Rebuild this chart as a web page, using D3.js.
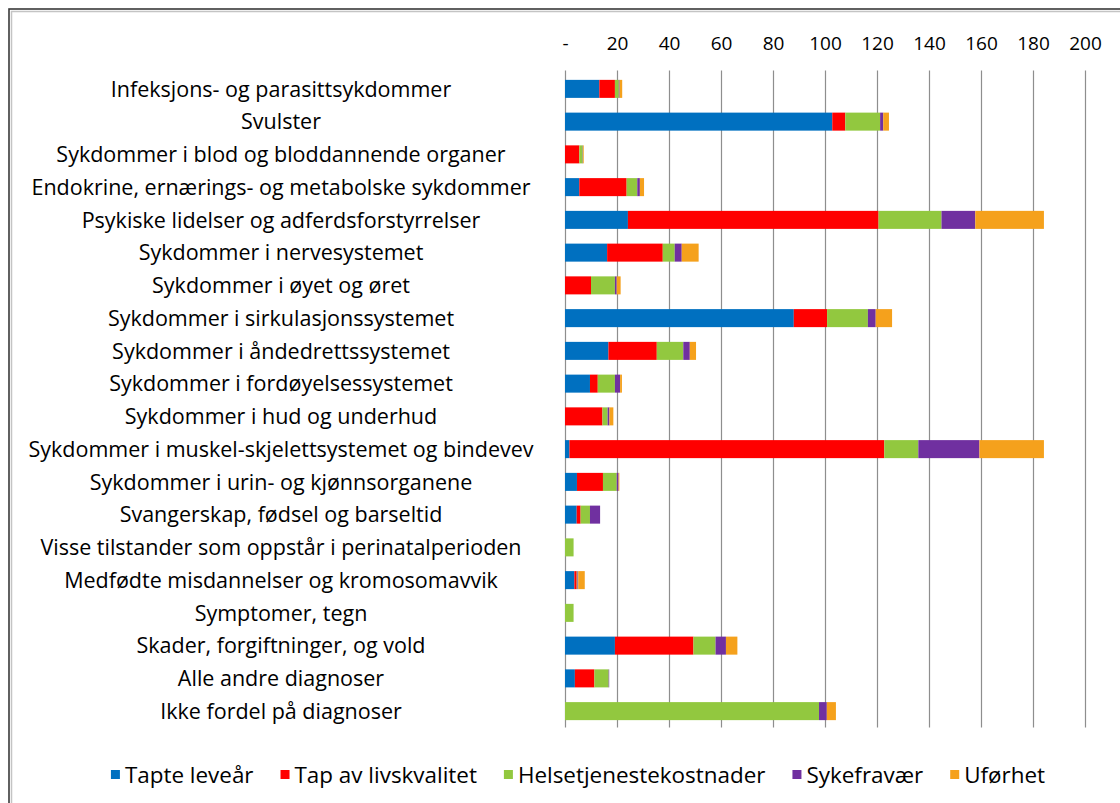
<!DOCTYPE html>
<html>
<head>
<meta charset="utf-8">
<script src="https://cdn.jsdelivr.net/npm/d3@7"></script>
<style>
    html, body { margin: 0; padding: 0; background: #fff; }
    svg { display: block; font-family: 'Open Sans', 'Lato', sans-serif; }
</style>
</head>
<body>
<div id="chart"></div>
<script>
(function () {
    'use strict';

    var categories = [
        'Infeksjons- og parasittsykdommer',
        'Svulster',
        'Sykdommer i blod og bloddannende organer',
        'Endokrine, ernærings- og metabolske sykdommer',
        'Psykiske lidelser og adferdsforstyrrelser',
        'Sykdommer i nervesystemet',
        'Sykdommer i øyet og øret',
        'Sykdommer i sirkulasjonssystemet',
        'Sykdommer i åndedrettssystemet',
        'Sykdommer i fordøyelsessystemet',
        'Sykdommer i hud og underhud',
        'Sykdommer i muskel-skjelettsystemet og bindevev',
        'Sykdommer i urin- og kjønnsorganene',
        'Svangerskap, fødsel og barseltid',
        'Visse tilstander som oppstår i perinatalperioden',
        'Medfødte misdannelser og kromosomavvik',
        'Symptomer, tegn',
        'Skader, forgiftninger, og vold',
        'Alle andre diagnoser',
        'Ikke fordel på diagnoser'
    ];

    var seriesNames = ['Tapte leveår', 'Tap av livskvalitet', 'Helsetjenestekostnader', 'Sykefravær', 'Uførhet'];
    var seriesColors = ['#0070C0', '#FF0000', '#92C83F', '#7030A0', '#F5A11C'];

    var tapteLeveaar      = [13.2, 102.8, 0,    5.5,  24.2, 16.2, 0,    88,   16.7, 9.6, 0,    1.7,   4.6, 4.5, 0,   3.6, 0,   19.2, 3.8, 0];
    var tapLivskvalitet   = [6,    5,     5.5,  18.2, 96.4, 21.4, 10,   12.8, 18.6, 3,   14.4, 121.1, 10,  1.5, 0,   0.9, 0,   30.2, 7.5, 0];
    var helsetjeneste     = [1.5,  13.4,  1.3,  4.1,  24.2, 4.6,  9.2,  15.7, 10.2, 6.6, 2,    13.1,  5.3, 3.6, 3.3, 0.3, 3.3, 8.5,  5.5, 97.7];
    var sykefravaer       = [0.3,  1.2,   0.1,  1,    13,   2.7,  0.7,  3,    2.5,  2,   0.7,  23.5,  0.7, 3.9, 0,   0.3, 0,   4,    0.2, 3];
    var uforhet           = [1,    2.2,   0.3,  1.6,  26.4, 6.5,  1.5,  6.3,  2.4,  0.7, 1.5,  24.8,  0.3, 0,   0,   2.5, 0,   4.4,  0,   3.5];

    var tickValues = [0, 20, 40, 60, 80, 100, 120, 140, 160, 180, 200];
    var tickLabels = ['-', '20', '40', '60', '80', '100', '120', '140', '160', '180', '200'];

    var width = 1120;
    var height = 803;
    var plotLeft = 565;
    var plotRight = 1085;
    var plotTop = 72.5;
    var plotBottom = 727.5;
    var labelCenter = 281;

    var seriesValues = [tapteLeveaar, tapLivskvalitet, helsetjeneste, sykefravaer, uforhet];
    var rows = categories.map(function (c, i) {
        var row = { category: c };
        seriesNames.forEach(function (s, j) { row[s] = seriesValues[j][i]; });
        return row;
    });

    var svg = d3.select('#chart').append('svg')
        .attr('width', width)
        .attr('height', height);

    svg.append('rect')
        .attr('width', width)
        .attr('height', height)
        .style('fill', '#fff');

    // outer frame, cut off at the right and bottom edges
    svg.append('rect')
        .attr('x', 9).attr('y', 9)
        .attr('width', 1300).attr('height', 1000)
        .style('fill', 'none')
        .style('stroke', '#3a3a3a')
        .style('stroke-width', 1.6);
    svg.append('rect')
        .attr('x', 11.5).attr('y', 11.5)
        .attr('width', 1300).attr('height', 1000)
        .style('fill', 'none')
        .style('stroke', '#c4c4c4')
        .style('stroke-width', 1.5);

    var x = d3.scaleLinear().domain([0, 200]).range([plotLeft, plotRight]);
    var y = d3.scaleBand()
        .domain(categories)
        .range([plotTop, plotBottom])
        .paddingInner(0.45)
        .paddingOuter(0.225);

    // gridlines
    svg.append('g').selectAll('line')
        .data(tickValues)
        .enter().append('line')
        .attr('x1', function (d) { return Math.round(x(d)) + 0.5; })
        .attr('x2', function (d) { return Math.round(x(d)) + 0.5; })
        .attr('y1', plotTop - 2)
        .attr('y2', plotBottom)
        .style('stroke', '#8e8e8e')
        .style('stroke-width', 1.2);

    // top axis labels
    var axis = d3.axisTop(x)
        .tickValues(tickValues)
        .tickSize(0)
        .tickPadding(0)
        .tickFormat(function (d, i) { return tickLabels[i]; });

    var axisG = svg.append('g')
        .attr('transform', 'translate(0,50)')
        .call(axis);
    axisG.select('.domain').remove();
    axisG.selectAll('text')
        .style('font-family', "'Open Sans', sans-serif")
        .style('font-size', '19px')
        .style('fill', '#000');

    // stacked bars
    var stack = d3.stack().keys(seriesNames);
    var layers = stack(rows);

    svg.append('g').selectAll('g')
        .data(layers)
        .enter().append('g')
        .style('fill', function (d, i) { return seriesColors[i]; })
        .selectAll('rect')
        .data(function (d) { return d; })
        .enter().append('rect')
        .attr('x', function (d) { return x(d[0]); })
        .attr('width', function (d) { return Math.max(0, x(d[1]) - x(d[0])); })
        .attr('y', function (d) { return y(d.data.category); })
        .attr('height', y.bandwidth());

    // category labels, font fitted to the widest label
    var labels = svg.append('g').selectAll('text')
        .data(categories)
        .enter().append('text')
        .attr('x', labelCenter)
        .attr('y', function (d) { return y(d) + y.bandwidth() / 2; })
        .attr('dy', '0.36em')
        .attr('text-anchor', 'middle')
        .style('font-size', '20px')
        .style('fill', '#000')
        .text(function (d) { return d; });

    var widest = d3.max(labels.nodes(), function (n) { return n.getComputedTextLength(); });
    labels.style('font-size', (20 * 505 / widest).toFixed(2) + 'px');

    // legend
    var legend = svg.append('g');
    var items = legend.selectAll('g')
        .data(seriesNames)
        .enter().append('g');

    items.append('rect')
        .attr('width', 9)
        .attr('height', 9)
        .attr('y', -6)
        .style('fill', function (d, i) { return seriesColors[i]; });

    var legendTexts = items.append('text')
        .attr('x', 14)
        .attr('dy', '0.33em')
        .style('font-size', '20px')
        .style('fill', '#000')
        .text(function (d) { return d; });

    var gap = 27;
    var total = 0;
    legendTexts.each(function () { total += 14 + this.getComputedTextLength() + gap; });
    total -= gap;
    var fit = 956 / total;
    legendTexts.style('font-size', (20 * Math.min(fit, 1.15)).toFixed(2) + 'px');

    var cursor = 0;
    var offsets = [];
    legendTexts.each(function () {
        offsets.push(cursor);
        cursor += 14 + this.getComputedTextLength() + gap;
    });
    var legendWidth = cursor - gap;
    items.attr('transform', function (d, i) { return 'translate(' + offsets[i] + ',0)'; });
    legend.attr('transform', 'translate(' + (578 - legendWidth / 2) + ',776)');
})();
</script>
</body>
</html>
